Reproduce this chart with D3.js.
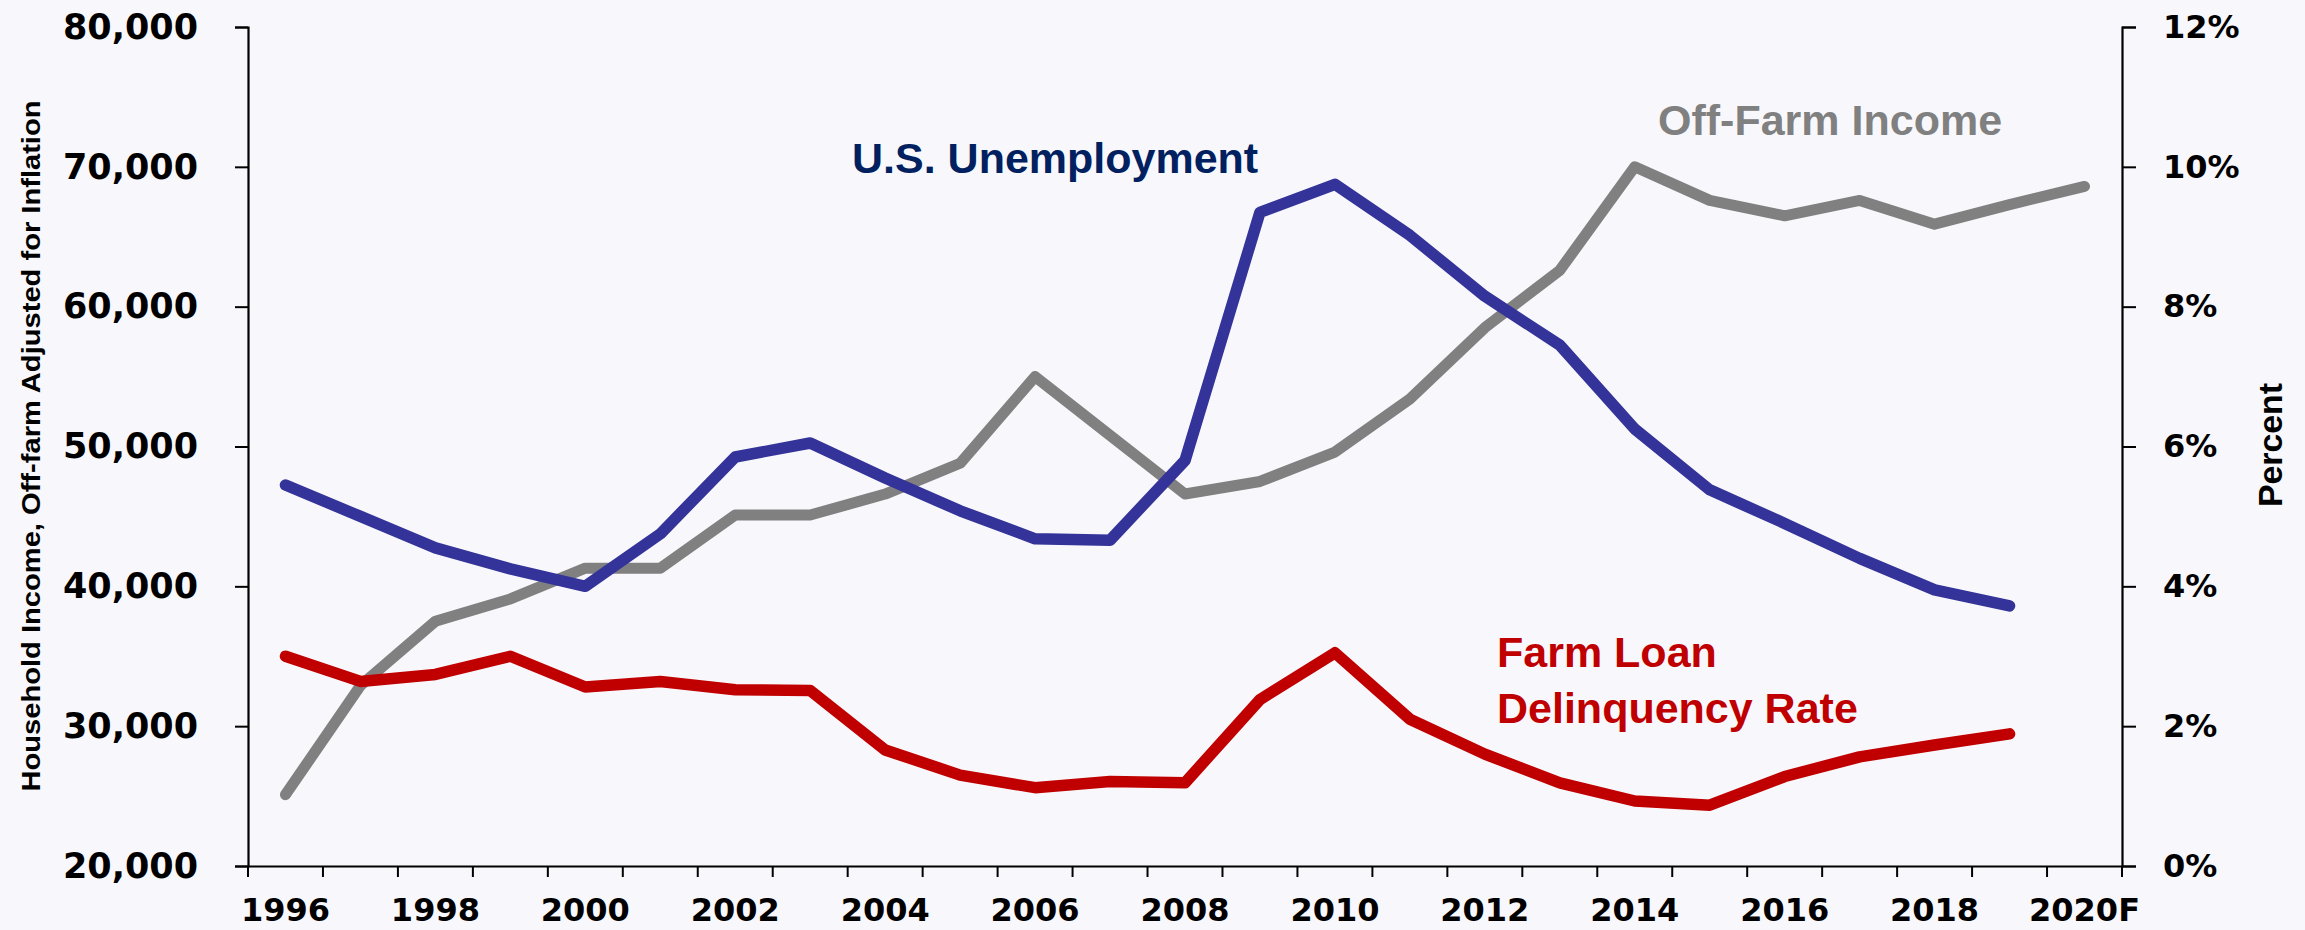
<!DOCTYPE html>
<html>
<head>
<meta charset="utf-8">
<script src="https://cdn.jsdelivr.net/npm/d3@7"></script>
<style>
  html, body { margin: 0; padding: 0; background: #f8f8fc; }
  svg { display: block; }
</style>
</head>
<body>
<svg id="chart" width="2305" height="930"></svg>
<script>
    // categories (last one is forecast)
    var categories = ["1996","1997","1998","1999","2000","2001","2002","2003","2004","2005",
        "2006","2007","2008","2009","2010","2011","2012","2013","2014","2015",
        "2016","2017","2018","2019","2020F"];

    // household off-farm income, inflation adjusted ($) 1996-2020F
    var offFarmIncome = [25100, 32900, 37500, 39100, 41300, 41300, 45100, 45100, 46600, 48800,
        55000, 50800, 46600, 47500, 49600, 53400, 58500, 62600, 70000, 67600,
        66500, 67600, 65900, 67300, 68600];

    // U.S. unemployment rate (%) 1996-2019
    var unemployment = [5.45, 5.0, 4.55, 4.25, 4.0, 4.75, 5.85, 6.05, 5.55, 5.08,
        4.68, 4.66, 5.8, 9.35, 9.75, 9.02, 8.15, 7.45, 6.25, 5.38,
        4.9, 4.4, 3.95, 3.72];

    // farm loan delinquency rate (%) 1996-2019
    var delinquency = [3.0, 2.64, 2.74, 3.0, 2.56, 2.64, 2.52, 2.51, 1.66, 1.3,
        1.12, 1.21, 1.19, 2.38, 3.05, 2.1, 1.6, 1.19, 0.93, 0.87,
        1.28, 1.56, 1.73, 1.89];

    var leftTicks = [20000, 30000, 40000, 50000, 60000, 70000, 80000];
    var rightTicks = [0, 2, 4, 6, 8, 10, 12];

    var svg = d3.select("#chart"),
        plotLeft = 248, plotRight = 2122, plotTop = 27, plotBottom = 866;

    var x = d3.scaleBand().domain(categories).range([plotLeft, plotRight]).padding(0);
    var yL = d3.scaleLinear().domain([20000, 80000]).range([plotBottom, plotTop]);
    var yR = d3.scaleLinear().domain([0, 12]).range([plotBottom, plotTop]);

    function cx(i) { return x(categories[i]) + x.bandwidth() / 2; }

    var tickFont = "'DejaVu Sans', Verdana, sans-serif";

    // left axis
    var gL = svg.append("g")
        .attr("transform", "translate(" + plotLeft + ",0)")
        .call(d3.axisLeft(yL).tickValues(leftTicks).tickSize(13).tickPadding(37)
            .tickFormat(d3.format(",")));

    // right axis
    var gR = svg.append("g")
        .attr("transform", "translate(" + plotRight + ",0)")
        .call(d3.axisRight(yR).tickValues(rightTicks).tickSize(14).tickPadding(27)
            .tickFormat(function (d) { return d + "%"; }));

    // bottom axis: ticks at category boundaries, labels every other year
    var gB = svg.append("g")
        .attr("transform", "translate(0," + plotBottom + ")")
        .call(d3.axisBottom(x).tickSize(0).tickPadding(32)
            .tickValues(categories.filter(function (d, i) { return i % 2 === 0; })));

    gB.selectAll(".bound")
        .data(categories.concat(["end"]))
        .enter()
        .append("line")
        .attr("class", "bound")
        .attr("x1", function (d, i) { return plotLeft + i * x.bandwidth(); })
        .attr("x2", function (d, i) { return plotLeft + i * x.bandwidth(); })
        .attr("y1", 0)
        .attr("y2", 11)
        .style("stroke", "#000")
        .style("stroke-width", 2);

    [gL, gR, gB].forEach(function (g) {
        g.select(".domain").style("stroke", "#000").style("stroke-width", 2.2);
        g.selectAll(".tick line").style("stroke", "#000").style("stroke-width", 2);
        g.selectAll(".tick text")
            .style("font-family", tickFont)
            .style("font-weight", "bold")
            .style("fill", "#000");
    });
    gL.selectAll(".tick text").style("font-size", "35px");
    gR.selectAll(".tick text").style("font-size", "32px");
    gB.selectAll(".tick text").style("font-size", "32px");

    // axis titles
    svg.append("text")
        .attr("transform", "translate(40,446) rotate(-90)")
        .attr("text-anchor", "middle")
        .attr("textLength", 691)
        .attr("lengthAdjust", "spacingAndGlyphs")
        .style("font-family", "'Liberation Sans Narrow', 'Liberation Sans', Arial, sans-serif")
        .style("font-weight", "bold")
        .style("font-size", "26px")
        .text("Household Income, Off-farm Adjusted for Inflation");

    svg.append("text")
        .attr("transform", "translate(2282,445) rotate(-90)")
        .attr("text-anchor", "middle")
        .attr("textLength", 124)
        .attr("lengthAdjust", "spacingAndGlyphs")
        .style("font-family", "'Liberation Sans Narrow', 'Liberation Sans', Arial, sans-serif")
        .style("font-weight", "bold")
        .style("font-size", "34px")
        .text("Percent");

    // lines
    var lineL = d3.line()
        .x(function (d, i) { return cx(i); })
        .y(function (d) { return yL(d); });
    var lineR = d3.line()
        .x(function (d, i) { return cx(i); })
        .y(function (d) { return yR(d); });

    var series = [
        {values: offFarmIncome, line: lineL, color: "#808080", w: 11},
        {values: delinquency, line: lineR, color: "#c00000", w: 11.5},
        {values: unemployment, line: lineR, color: "#333399", w: 11.5}
    ];

    svg.selectAll(".series")
        .data(series)
        .enter()
        .append("path")
        .attr("class", "series")
        .attr("d", function (d) { return d.line(d.values); })
        .style("fill", "none")
        .style("stroke", function (d) { return d.color; })
        .style("stroke-width", function (d) { return d.w; })
        .style("stroke-linecap", "round")
        .style("stroke-linejoin", "round");

    // series labels
    var labels = [
        {text: "U.S. Unemployment", x: 852, y: 173, color: "#002060"},
        {text: "Off-Farm Income", x: 1658, y: 135, color: "#808080"},
        {text: "Farm Loan", x: 1497, y: 667, color: "#c00000"},
        {text: "Delinquency Rate", x: 1497, y: 723, color: "#c00000"}
    ];

    svg.selectAll(".label")
        .data(labels)
        .enter()
        .append("text")
        .attr("class", "label")
        .attr("x", function (d) { return d.x; })
        .attr("y", function (d) { return d.y; })
        .style("font-family", "'Liberation Sans', Arial, sans-serif")
        .style("font-weight", "bold")
        .style("font-size", "43px")
        .style("fill", function (d) { return d.color; })
        .text(function (d) { return d.text; });
</script>
</body>
</html>
